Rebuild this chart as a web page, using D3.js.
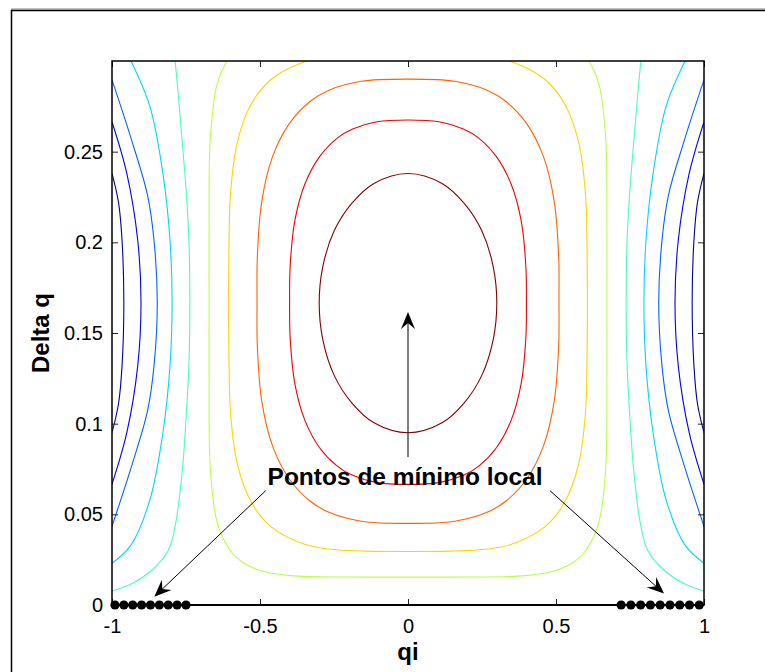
<!DOCTYPE html>
<html><head><meta charset="utf-8">
<script src="https://cdn.jsdelivr.net/npm/d3@7"></script>
<style>
body{margin:0;background:#fff}
svg{display:block}
text{font-family:"Liberation Sans",Arial,Helvetica,sans-serif;fill:#000}
</style>
</head><body>
<svg id="chart" width="765" height="672"></svg>
<script>
// Axis ticks
const xTicks = [-1, -0.5, 0, 0.5, 1];
const yTicks = [0, 0.05, 0.1, 0.15, 0.2, 0.25];
const xLabels = ["-1", "-0.5", "0", "0.5", "1"];
const yLabels = ["0", "0.05", "0.1", "0.15", "0.2", "0.25"];

// Contour level colours (jet, lowest to highest level)
const levelColors = ["#000090", "#0000f1", "#0063ff", "#00d4ff", "#47ffb8",
                     "#b8ff47", "#ffd400", "#ff6300", "#f00000", "#800000"];

// Level 0 (lowest): short arcs hugging the side edges
const level0Left  = [[-1,0.238],[-0.978,0.222],[-0.966,0.201],[-0.96,0.1665],[-0.966,0.132],[-0.978,0.111],[-1,0.095]];
const level0Right = [[1,0.238],[0.978,0.222],[0.966,0.201],[0.96,0.1665],[0.966,0.132],[0.978,0.111],[1,0.095]];
// Level 1
const level1Left  = [[-1,0.2664],[-0.95,0.238],[-0.913,0.201],[-0.902,0.1665],[-0.913,0.132],[-0.95,0.095],[-1,0.0666]];
const level1Right = [[1,0.2664],[0.95,0.238],[0.913,0.201],[0.902,0.1665],[0.913,0.132],[0.95,0.095],[1,0.0666]];
// Level 2
const level2Left  = [[-1,0.2896],[-0.933,0.256],[-0.88,0.226],[-0.858,0.201],[-0.847,0.1665],[-0.858,0.132],[-0.88,0.107],[-0.933,0.077],[-1,0.0434]];
const level2Right = [[1,0.2896],[0.933,0.256],[0.88,0.226],[0.858,0.201],[0.847,0.1665],[0.858,0.132],[0.88,0.107],[0.933,0.077],[1,0.0434]];
// Level 3
const level3Left  = [[-0.97,0.31],[-0.936,0.3],[-0.872,0.275],[-0.828,0.238],[-0.804,0.201],[-0.797,0.1665],[-0.804,0.132],[-0.828,0.095],[-0.872,0.058],[-0.936,0.033],[-1,0.023]];
const level3Right = [[0.97,0.31],[0.936,0.3],[0.872,0.275],[0.828,0.238],[0.804,0.201],[0.797,0.1665],[0.804,0.132],[0.828,0.095],[0.872,0.058],[0.936,0.033],[1,0.023]];
// Level 4
const level4Left  = [[-0.8,0.315],[-0.787,0.3],[-0.765,0.26],[-0.748,0.225],[-0.74,0.2],[-0.737,0.1665],[-0.74,0.133],[-0.748,0.108],[-0.762,0.075],[-0.785,0.045],[-0.81,0.03],[-0.86,0.02],[-0.93,0.012],[-1,0.0077]];
const level4Right = [[0.8,0.315],[0.787,0.3],[0.765,0.26],[0.748,0.225],[0.74,0.2],[0.737,0.1665],[0.74,0.133],[0.748,0.108],[0.762,0.075],[0.785,0.045],[0.81,0.03],[0.86,0.02],[0.93,0.012],[1,0.0077]];
// Level 5: U shape open at the top
const level5 = [[-0.578,0.307],[-0.611,0.3],[-0.645,0.2873],[-0.668,0.2571],[-0.672,0.2118],[-0.672,0.1665],[-0.672,0.1212],[-0.668,0.0759],[-0.645,0.0457],[-0.603,0.0306],[-0.554,0.023],[-0.487,0.0185],[-0.396,0.0162],[-0.2,0.0154],[0,0.0154],
                [0.2,0.0154],[0.396,0.0162],[0.487,0.0185],[0.554,0.023],[0.603,0.0306],[0.645,0.0457],[0.668,0.0759],[0.672,0.1212],[0.672,0.1665],[0.672,0.2118],[0.668,0.2571],[0.645,0.2873],[0.611,0.3],[0.578,0.307]];
// Level 6: U shape open at the top
const level6 = [[-0.298,0.3014],[-0.352,0.2994],[-0.463,0.2898],[-0.53,0.2761],[-0.576,0.2556],[-0.599,0.2282],[-0.605,0.194],[-0.605,0.139],[-0.599,0.1048],[-0.576,0.0774],[-0.53,0.0569],[-0.463,0.0432],[-0.352,0.0336],[-0.27,0.0309],[-0.14,0.0297],[0,0.0295],
                [0.14,0.0297],[0.27,0.0309],[0.352,0.0336],[0.463,0.0432],[0.53,0.0569],[0.576,0.0774],[0.599,0.1048],[0.605,0.139],[0.605,0.194],[0.599,0.2282],[0.576,0.2556],[0.53,0.2761],[0.463,0.2898],[0.352,0.2994],[0.298,0.3014]];
// Level 7: closed ring
const level7 = [[0,0.29],[0.158,0.2888],[0.267,0.2839],[0.33,0.2778],[0.401,0.2655],[0.458,0.2471],[0.494,0.2226],[0.509,0.192],[0.51,0.1675],[0.509,0.143],[0.494,0.1124],[0.458,0.0879],[0.401,0.0695],[0.33,0.0572],[0.267,0.0511],[0.158,0.0462],
                [0,0.045],[-0.158,0.0462],[-0.267,0.0511],[-0.33,0.0572],[-0.401,0.0695],[-0.458,0.0879],[-0.494,0.1124],[-0.509,0.143],[-0.51,0.1675],[-0.509,0.192],[-0.494,0.2226],[-0.458,0.2471],[-0.401,0.2655],[-0.33,0.2778],[-0.267,0.2839],[-0.158,0.2888]];
// Level 8: closed ring
const level8 = [[0,0.2675],[0.105,0.2665],[0.187,0.2625],[0.239,0.2575],[0.298,0.2474],[0.348,0.2323],[0.382,0.2122],[0.398,0.1871],[0.4,0.167],[0.398,0.1469],[0.382,0.1218],[0.348,0.1017],[0.298,0.0866],[0.239,0.0766],[0.187,0.0715],[0.105,0.0675],
                [0,0.0665],[-0.105,0.0675],[-0.187,0.0715],[-0.239,0.0766],[-0.298,0.0866],[-0.348,0.1017],[-0.382,0.1218],[-0.398,0.1469],[-0.4,0.167],[-0.398,0.1871],[-0.382,0.2122],[-0.348,0.2323],[-0.298,0.2474],[-0.239,0.2575],[-0.187,0.2625],[-0.105,0.2665]];
// Level 9 (highest): innermost ring
const level9 = [[0,0.238],[0.115,0.2325],[0.19,0.2215],[0.249,0.2065],[0.288,0.1865],[0.3,0.1665],[0.288,0.1465],[0.249,0.1265],[0.19,0.1115],[0.115,0.1005],
                [0,0.095],[-0.115,0.1005],[-0.19,0.1115],[-0.249,0.1265],[-0.288,0.1465],[-0.3,0.1665],[-0.288,0.1865],[-0.249,0.2065],[-0.19,0.2215],[-0.115,0.2325]];

// Local minimum points along Delta q = 0
const minimaLeftQi  = [-0.99, -0.96, -0.93, -0.90, -0.87, -0.84, -0.81, -0.78, -0.75];
const minimaRightQi = [0.72, 0.753, 0.786, 0.819, 0.852, 0.885, 0.918, 0.951, 0.984];

// Annotation: label and arrows (data coordinates)
const noteText = "Pontos de mínimo local";
const notePos = [-0.01, 0.066];
const noteArrows = [
  {from: [0, 0.0816], to: [0, 0.1616]},
  {from: [-0.481, 0.063], to: [-0.857, 0.0046]},
  {from: [0.48, 0.063], to: [0.865, 0.0063]}
];

const contourSet = [
  {pts: level0Left, lvl: 0, closed: false}, {pts: level0Right, lvl: 0, closed: false},
  {pts: level1Left, lvl: 1, closed: false}, {pts: level1Right, lvl: 1, closed: false},
  {pts: level2Left, lvl: 2, closed: false}, {pts: level2Right, lvl: 2, closed: false},
  {pts: level3Left, lvl: 3, closed: false}, {pts: level3Right, lvl: 3, closed: false},
  {pts: level4Left, lvl: 4, closed: false}, {pts: level4Right, lvl: 4, closed: false},
  {pts: level5, lvl: 5, closed: false},
  {pts: level6, lvl: 6, closed: false},
  {pts: level7, lvl: 7, closed: true},
  {pts: level8, lvl: 8, closed: true},
  {pts: level9, lvl: 9, closed: true}
];

const svg = d3.select("#chart");
const W = 765;
const plot = {left: 112, right: 704, top: 61, bottom: 605};

// figure frame
svg.append("line").attr("x1", 11).attr("x2", W).attr("y1", 9).attr("y2", 9)
  .attr("stroke", "#888").attr("stroke-width", 1);
svg.append("rect").attr("x", 11.5).attr("y", 10.5).attr("width", 800).attr("height", 700)
  .attr("fill", "none").attr("stroke", "#000").attr("stroke-width", 1.5);

const x = d3.scaleLinear().domain([-1, 1]).range([plot.left, plot.right]);
const y = d3.scaleLinear().domain([0, 0.3]).range([plot.bottom, plot.top]);

svg.append("defs").append("clipPath").attr("id", "clip")
  .append("rect").attr("x", plot.left).attr("y", plot.top)
  .attr("width", plot.right - plot.left).attr("height", plot.bottom - plot.top);

const gC = svg.append("g").attr("clip-path", "url(#clip)");
const openLine = d3.line().x(d => x(d[0])).y(d => y(d[1])).curve(d3.curveCatmullRom.alpha(0.5));
const closedLine = d3.line().x(d => x(d[0])).y(d => y(d[1])).curve(d3.curveCatmullRomClosed.alpha(0.5));

gC.selectAll("path.c").data(contourSet).join("path")
  .attr("class", "c")
  .attr("d", d => (d.closed ? closedLine : openLine)(d.pts))
  .attr("fill", "none")
  .attr("stroke", d => levelColors[d.lvl])
  .attr("stroke-width", 1.1);

// axes with inward ticks on all sides
const fontTick = 20;
const axB = svg.append("g").attr("transform", `translate(0,${plot.bottom})`)
  .call(d3.axisBottom(x).tickValues(xTicks).tickFormat((d, i) => xLabels[i]).tickSize(-6).tickPadding(14));
const axT = svg.append("g").attr("transform", `translate(0,${plot.top})`)
  .call(d3.axisTop(x).tickValues(xTicks).tickFormat("").tickSize(-6));
const axL = svg.append("g").attr("transform", `translate(${plot.left},0)`)
  .call(d3.axisLeft(y).tickValues(yTicks).tickFormat((d, i) => yLabels[i]).tickSize(-6).tickPadding(9));
const axR = svg.append("g").attr("transform", `translate(${plot.right},0)`)
  .call(d3.axisRight(y).tickValues(yTicks).tickFormat("").tickSize(-6));
[axB, axT, axL, axR].forEach(a => {
  a.select(".domain").remove();
  a.selectAll(".tick line").attr("stroke", "#222").attr("stroke-width", 1);
  a.selectAll("text").attr("font-size", fontTick).attr("fill", "#000")
    .style("font-family", "'Liberation Sans', Arial, sans-serif");
});

// box
svg.append("rect").attr("x", plot.left).attr("y", plot.top)
  .attr("width", plot.right - plot.left).attr("height", plot.bottom - plot.top)
  .attr("fill", "none").attr("stroke", "#000").attr("stroke-width", 1.5);
svg.append("line").attr("x1", plot.left).attr("x2", plot.right)
  .attr("y1", plot.bottom).attr("y2", plot.bottom).attr("stroke", "#000").attr("stroke-width", 2);

// axis titles
svg.append("text").attr("x", x(0)).attr("y", 660).attr("text-anchor", "middle")
  .attr("font-size", 24).attr("font-weight", "bold").text("qi");
svg.append("text").attr("transform", `translate(49,${y(0.15)}) rotate(-90)`)
  .attr("text-anchor", "middle").attr("font-size", 24).attr("font-weight", "bold").text("Delta q");

// minimum points
const minima = minimaLeftQi.concat(minimaRightQi);
svg.selectAll("circle.m").data(minima).join("circle").attr("class", "m")
  .attr("cx", d => x(d)).attr("cy", y(0)).attr("r", 4.6).attr("fill", "#000");

// annotation
svg.append("text").attr("x", x(notePos[0])).attr("y", y(notePos[1]))
  .attr("text-anchor", "middle").attr("font-size", 24.5).attr("font-weight", "bold").text(noteText);

function arrowHead(tx, ty, ang) {
  const L = 17, hw = 7, back = 6;
  const c = Math.cos(ang), s = Math.sin(ang);
  const p = (a, b) => [tx - a * c + b * -s, ty - a * s + b * c];
  const pts = [[tx, ty], p(L, hw), p(L - back, 0), p(L, -hw)];
  return "M" + pts.map(q => q.join(",")).join("L") + "Z";
}
noteArrows.forEach(a => {
  const x1 = x(a.from[0]), y1 = y(a.from[1]), x2 = x(a.to[0]), y2 = y(a.to[1]);
  const ang = Math.atan2(y2 - y1, x2 - x1);
  svg.append("line").attr("x1", x1).attr("y1", y1)
    .attr("x2", x2 - 10 * Math.cos(ang)).attr("y2", y2 - 10 * Math.sin(ang))
    .attr("stroke", "#000").attr("stroke-width", 1);
  svg.append("path").attr("d", arrowHead(x2, y2, ang)).attr("fill", "#000");
});
</script>
</body></html>
